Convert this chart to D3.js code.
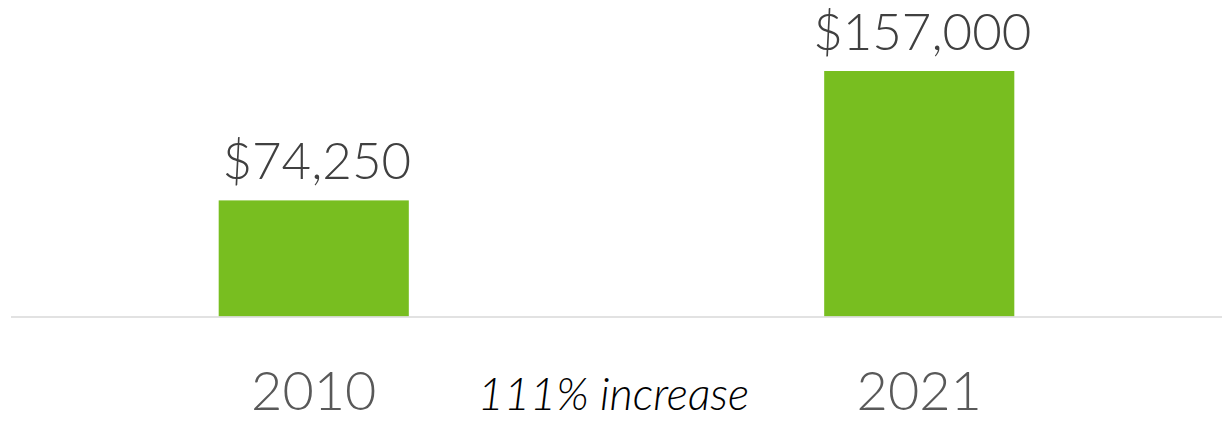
<!DOCTYPE html>
<html>
<head>
<meta charset="utf-8">
<script src="https://cdn.jsdelivr.net/npm/d3@7"></script>
<style>
  html, body { margin: 0; padding: 0; background: #fff; }
  svg { display: block; }
</style>
</head>
<body>
<svg id="chart" width="1229" height="421"></svg>
<script>
const categories = ["2010", "2021"];
const values = [74250, 157000];
const valueLabels = ["$74,250", "$157,000"];
const note = "111% increase";

const W = 1229, H = 421;
const svg = d3.select("#chart");

const x = d3.scaleBand().domain(categories).range([11, 1222])
  .paddingInner(0.686).paddingOuter(0.343);
const y = d3.scaleLinear().domain([0, 157000]).range([316.5, 71]);

svg.selectAll("rect.bar").data(values).join("rect")
  .attr("class", "bar")
  .attr("x", (d, i) => x(categories[i]))
  .attr("width", x.bandwidth())
  .attr("y", d => y(d))
  .attr("height", d => y(0) - y(d))
  .attr("fill", "#78BE20");

svg.append("line")
  .attr("x1", 11).attr("x2", 1222)
  .attr("y1", y(0) + 0.5).attr("y2", y(0) + 0.5)
  .attr("stroke", "#d9d9d9").attr("stroke-width", 1.5);

const font = "Lato, 'Open Sans', sans-serif";

svg.selectAll("text.val").data(values).join("text")
  .attr("class", "val")
  .attr("x", (d, i) => x(categories[i]) + x.bandwidth() / 2 + 3)
  .attr("y", d => y(d) - 21)
  .attr("text-anchor", "middle")
  .attr("font-family", font)
  .attr("font-weight", 300)
  .attr("font-size", 51)
  .attr("fill", "#404040")
  .text((d, i) => valueLabels[i]);

const xAxis = d3.axisBottom(x).tickSize(0).tickPadding(0);
const gx = svg.append("g").attr("transform", "translate(0,410)").call(xAxis);
gx.select(".domain").remove();
gx.selectAll("text")
  .attr("dy", 0)
  .attr("y", 0)
  .attr("font-family", font)
  .attr("font-weight", 300)
  .attr("font-size", 54)
  .attr("fill", "#595959");

svg.append("text")
  .attr("x", (x("2010") + x("2021") + x.bandwidth()) / 2 - 3)
  .attr("y", 410)
  .attr("text-anchor", "middle")
  .attr("font-family", font)
  .attr("font-style", "italic")
  .attr("font-weight", 300)
  .attr("font-size", 45)
  .attr("fill", "#000")
  .text(note);
</script>
</body>
</html>
